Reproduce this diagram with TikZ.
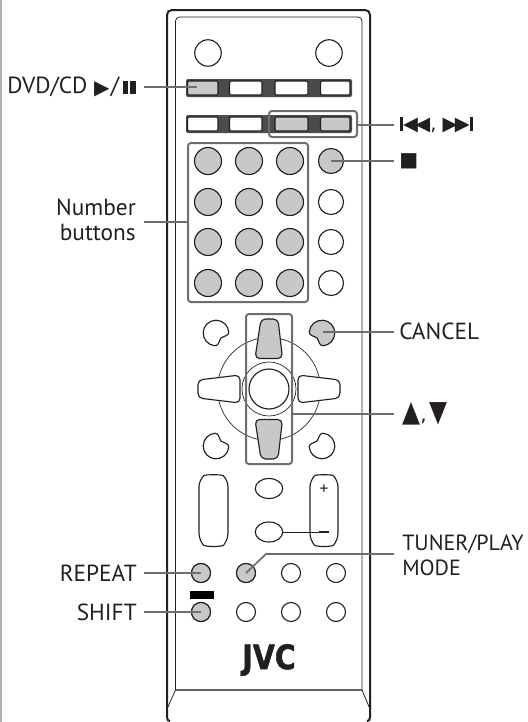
\documentclass[tikz,border=0pt]{standalone}
\usepackage{fontspec}
\usepackage{graphicx}
\usetikzlibrary{shapes.geometric}
\setmainfont{PT Sans}
\newfontfamily\sym{DejaVu Sans}
\newfontfamily\logo[FakeBold=1.5]{DejaVu Sans Bold}
\definecolor{ink}{RGB}{35,31,32}
\definecolor{hl}{RGB}{200,200,200}
\definecolor{lead}{RGB}{110,110,110}
\definecolor{strip}{RGB}{75,75,75}
\tikzset{
 x=0.75pt,y=-0.75pt,
 lab/.style={font=\fontsize{17.5}{18.9}\selectfont,text=ink,inner sep=0pt},
 labl/.style={lab,anchor=west},
 labr/.style={lab,anchor=east,align=right},
 btn/.style={draw=ink,line width=0.85pt,fill=white},
 hbtn/.style={btn,fill=hl},
 lead/.style={draw=lead,line width=1.3pt},
 hbox/.style={draw=lead,line width=1.5pt,rounded corners=2.2pt},
 rbtn/.style={btn,circle,inner sep=0pt},
}
\newcommand{\rectbtn}[4]{\draw[#1,rounded corners=1pt] (#2,81+#4) rectangle (#3,95+#4);}
\newcommand{\cornerpath}{(180:12.8) arc[start angle=180,end angle=312,radius=12.8] .. controls (5.5,-7) and (3.5,-1) .. (7,0) .. controls (3.5,1) and (5.5,7) .. (48:12.8) arc[start angle=48,end angle=180,radius=12.8] -- cycle}
\newcommand{\cornerfig}[1]{\draw[#1] (180:12.8) arc[start angle=180,end angle=310,radius=12.8] .. controls (11,-7) and (8,-4) .. (7,0) .. controls (8,4) and (11,7) .. (50:12.8) arc[start angle=50,end angle=180,radius=12.8] -- cycle;}
\tikzset{
 cornerbtn/.pic={\cornerfig{btn}},
 cornerhl/.pic={\cornerfig{hbtn}},
}
\begin{document}
\begin{tikzpicture}
\useasboundingbox (0,0) rectangle (528,722);
\draw[draw=gray!60,line width=1pt] (1,0) -- (1,722);
% body
\draw[ink,line width=1.5pt] (170,721) .. controls (168,721) and (167,720) .. (167,717) -- (167,15) .. controls (167,12) and (169,10) .. (172,10) -- (365,10) .. controls (368,10) and (370,12) .. (370,15) -- (370,717) .. controls (370,720) and (369,721) .. (367,721);
\draw[ink,line width=0.6pt,rounded corners=3pt] (175.5,690) -- (175.5,17) -- (362,17) -- (362,690);
\draw[draw=ink!70,line width=1pt] (175.5,690) -- (362,690);
\draw[ink,line width=0.6pt] (175.5,690) -- (167,709) (362,690) -- (370,709);
% top circles
\node[rbtn,minimum size=26.5*0.75pt] (pa) at (208,53) {};
\node[rbtn,minimum size=26.5*0.75pt] (pb) at (329,53) {};
% strips
\fill[strip,rounded corners=1.5pt] (186,79) rectangle (352,97);
\fill[strip,rounded corners=1.5pt] (186,115) rectangle (352,133);
\rectbtn{hbtn}{187.5}{218}{0}
\rectbtn{btn}{229.5}{262}{0}
\rectbtn{btn}{275}{308}{0}
\rectbtn{btn}{320.5}{350}{0}
\rectbtn{btn}{187.5}{218}{36}
\rectbtn{btn}{229.5}{262}{36}
\rectbtn{hbtn}{275}{308}{36}
\rectbtn{hbtn}{320.5}{350}{36}
\draw[hbox] (269,111) rectangle (357,137);
\coordinate (skip) at (357,125);
% number buttons
\foreach \yy [count=\r] in {161,202,242,283}{
 \foreach \xx [count=\c] in {208,249,290}{
  \node[rbtn,fill=hl,minimum size=27*0.75pt] (n\r\c) at (\xx,\yy) {};
 }
}
\node[rbtn,fill=hl,minimum size=25*0.75pt] (stopb) at (331,161) {};
\node[rbtn,minimum size=25*0.75pt] at (331,202) {};
\node[rbtn,minimum size=25*0.75pt] at (331,242) {};
\node[rbtn,minimum size=25*0.75pt] at (331,283) {};
\draw[hbox] (188,143) rectangle (308,302);
\coordinate (numb) at (188,222);
% d-pad
\draw[ink,line width=0.5pt] (269,389) circle[radius=51.5];
\draw[ink,line width=0.5pt] (269,389) circle[radius=27];
\draw[btn,rounded corners=3.5pt,fill=hl] (261,319) -- (278,319) -- (282.5,358.5) -- (255,358.5) -- cycle;
\draw[btn,rounded corners=3.5pt,fill=hl] (255,419.5) -- (282.5,419.5) -- (278,459) -- (261,459) -- cycle;
\draw[btn,rounded corners=3.5pt] (198,380) -- (240,375) -- (240,403) -- (198,398) -- cycle;
\draw[btn,rounded corners=3.5pt] (340,380) -- (298,375) -- (298,403) -- (340,398) -- cycle;
\node[rbtn,minimum size=40*0.75pt] (center) at (269,389) {};
\pic at (216,333) [rotate=-45] {cornerbtn};
\pic at (322,333) [rotate=-135] {cornerhl};
\pic at (216,446) [rotate=45] {cornerbtn};
\pic at (322,446) [rotate=135] {cornerbtn};
\draw[hbox] (246,314) rectangle (292,464);
\coordinate (cancelb) at (323,332);
\coordinate (dp) at (292,414);
% bottom group
\draw[btn,rounded corners=5pt] (199,480) .. controls (205,474.5) and (222,474.5) .. (228,480) -- (228,540) .. controls (222,547) and (205,547) .. (199,540) -- cycle;
\draw[btn,rounded corners=5pt] (310,480) .. controls (316,474.5) and (332,474.5) .. (338,480) -- (338,540) .. controls (332,547) and (316,547) .. (310,540) -- cycle;
\node[btn,ellipse,inner sep=0pt,minimum width=27.5*0.75pt,minimum height=20*0.75pt] (oa) at (269,488.5) {};
\node[btn,ellipse,inner sep=0pt,minimum width=27.5*0.75pt,minimum height=20*0.75pt] (ob) at (269,532) {};
\node[text=ink,inner sep=0pt,font=\fontsize{13}{14}\selectfont] (plus) at (324,490) {+};
\fill[ink] (319,531) rectangle (328.5,533) coordinate (minus);
\coordinate (minusl) at (319,532);
\draw[ink,line width=0.6pt] (ob.east) -- (minusl);
\foreach \yy [count=\r] in {573,612}{
 \foreach \xx [count=\c] in {201,246,291,336}{
  \node[rbtn,minimum size=19*0.75pt] (s\r\c) at (\xx,\yy) {};
 }
}
\node[rbtn,fill=hl,minimum size=19*0.75pt] (s11) at (201,573) {};
\node[rbtn,fill=hl,minimum size=19*0.75pt] (s12) at (246,573) {};
\node[rbtn,fill=hl,minimum size=19*0.75pt] (s21) at (201,612) {};
\fill[black] (190,591) rectangle (214,599);
\node[text=ink,inner sep=0pt,font=\logo\fontsize{19}{20}\selectfont] (jvc) at (269,660) {\scalebox{1.12}[1.33]{JVC}};
% labels
\node[labr] (ldvd) at (136,87) {DVD/CD\kern5pt{\sym\fontsize{15}{15}\selectfont\raisebox{-0.5pt}{▶}}\kern1pt/\kern3pt\rule[-0.6pt]{4pt}{10pt}\kern1.5pt\rule[-0.6pt]{4pt}{10pt}};
\node[labr] (lnum) at (136,220) {Number\\buttons};
\node[labr] (lrep) at (137,573) {REPEAT};
\node[labr] (lshift) at (137,612) {SHIFT};
\node[labl] (lskip) at (400,125) {\sym\fontsize{14.5}{15}\selectfont\rule[-1pt]{2.2pt}{10.5pt}◀\kern-2pt◀, ▶\kern-2pt▶\rule[-1pt]{2.2pt}{10.5pt}};
\node[labl] (lstop) at (399,161) {\sym\fontsize{15}{15}\selectfont■};
\node[labl] (lcancel) at (399,331) {CANCEL};
\node[labl] (lud) at (402,414) {\sym\fontsize{13}{13}\selectfont\scalebox{1.35}[1.7]{▲}\fontsize{15}{15}\selectfont,\,\fontsize{13}{13}\selectfont\scalebox{1.35}[1.7]{▼}};
\node[labl,align=left,font=\fontsize{16.5}{18.9}\selectfont] (ltun) at (402,555) {TUNER/PLAY\\MODE};
% leaders
\coordinate (e1) at (144,87);
\coordinate (e2) at (144,222);
\coordinate (e3) at (144,573);
\coordinate (e4) at (144,612);
\coordinate (e5) at (394,125);
\coordinate (e6) at (394,161);
\coordinate (e7) at (394,332);
\coordinate (e8) at (394,414);
\coordinate (e9) at (394,554);
\coordinate (t1) at (197,87);
\draw[lead] (e1) -- (t1);
\draw[lead] (e2) -- (numb);
\draw[lead] (e3) -- (s11.center);
\draw[lead] (e4) -- (s21.center);
\draw[lead] (skip) -- (e5);
\draw[lead] (stopb.center) -- (e6);
\draw[lead] (cancelb) -- (e7);
\draw[lead] (dp) -- (e8);
\draw[lead] (s12.center) -- (266,554) -- (e9);
\end{tikzpicture}
\end{document}
